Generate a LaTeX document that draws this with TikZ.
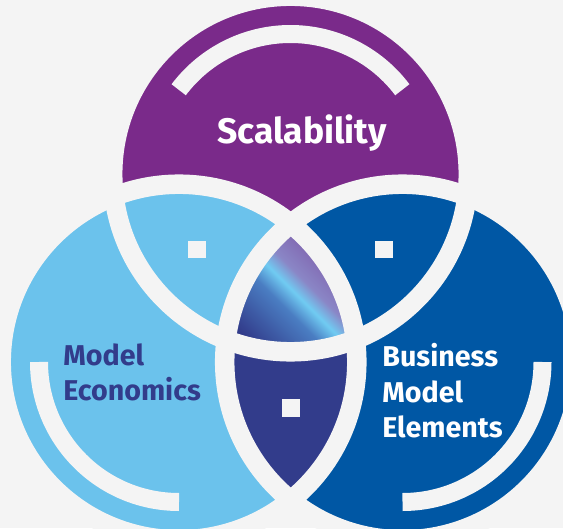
\documentclass[tikz,border=0pt]{standalone}
\usepackage{fontspec}
\setmainfont{Fira Sans}
\definecolor{scalepurple}{HTML}{7A2A8A}
\definecolor{econblue}{HTML}{6BC2EC}
\definecolor{bizblue}{HTML}{0057A4}
\definecolor{overlapnavy}{HTML}{323C8B}
\definecolor{paper}{HTML}{F4F4F4}
\definecolor{midblue}{HTML}{4A7DC2}
\definecolor{streak}{HTML}{70CBF2}
\definecolor{lavender}{HTML}{8A86C6}
\definecolor{lensplum}{HTML}{7B52A2}
\pgfdeclarehorizontalshading{lensfade}{100bp}{color(0bp)=(overlapnavy); color(20bp)=(overlapnavy);
  color(42bp)=(midblue); color(50bp)=(streak); color(57bp)=(lavender); color(78bp)=(lensplum); color(100bp)=(lensplum)}

\begin{document}
\begin{tikzpicture}[
    band/.style={draw=paper,line width=0.39cm},
    ring/.style={draw=paper,line width=0.36cm},
    dot/.style={fill=paper,minimum size=0.355cm,inner sep=0pt},
    lbl/.style={font=\bfseries\fontsize{16.3}{20.2}\selectfont,align=left,inner sep=0pt,anchor=north west}
  ]
    \fill[paper] (0,0) rectangle (11.26,10.56);
    \useasboundingbox (0,0) rectangle (11.26,10.56);
    \coordinate (top) at (5.81,7.08);
    \coordinate (left) at (3.58,3.32);
    \coordinate (right) at (8.05,3.32);
    % three discs
    \fill[scalepurple] (top) circle (3.556);
    \fill[econblue] (left) circle (3.556);
    \fill[bizblue] (right) circle (3.556);
    \begin{scope}
      \clip (left) circle (3.556);
      \fill[overlapnavy] (right) circle (3.556);
      \clip (right) circle (3.556);
      \clip (top) circle (3.556);
      \shade[shading=lensfade,shading angle=45] (4.7,3.7) rectangle (6.9,5.9);
    \end{scope}
    % white bands and arcs
    \draw[band] (top) circle (3.556);
    \draw[band] (left) circle (3.556);
    \draw[band] (right) circle (3.556);
    \draw[ring] (top) ++(37:2.8) arc[start angle=37,end angle=143,radius=2.8];
    \draw[ring] (left) ++(180:2.8) arc[start angle=180,end angle=270,radius=2.8];
    \draw[ring] (right) ++(270:2.8) arc[start angle=270,end angle=360,radius=2.8];
    \node[dot] (sqleft) at (3.94,5.57) {};
    \node[dot] (sqright) at (7.68,5.57) {};
    \node[dot] (sqbottom) at (5.82,2.40) {};
    \node[font=\bfseries\fontsize{20.2}{24}\selectfont,text=white,anchor=base] (scal) at (6.04,7.68) {Scalability};
    \node[lbl,text=overlapnavy] (econ) at (1.26,3.70) {Model\\Economics};
    \node[lbl,text=white] (biz) at (7.64,3.70) {Business\\Model\\Elements};
\end{tikzpicture}
\end{document}
